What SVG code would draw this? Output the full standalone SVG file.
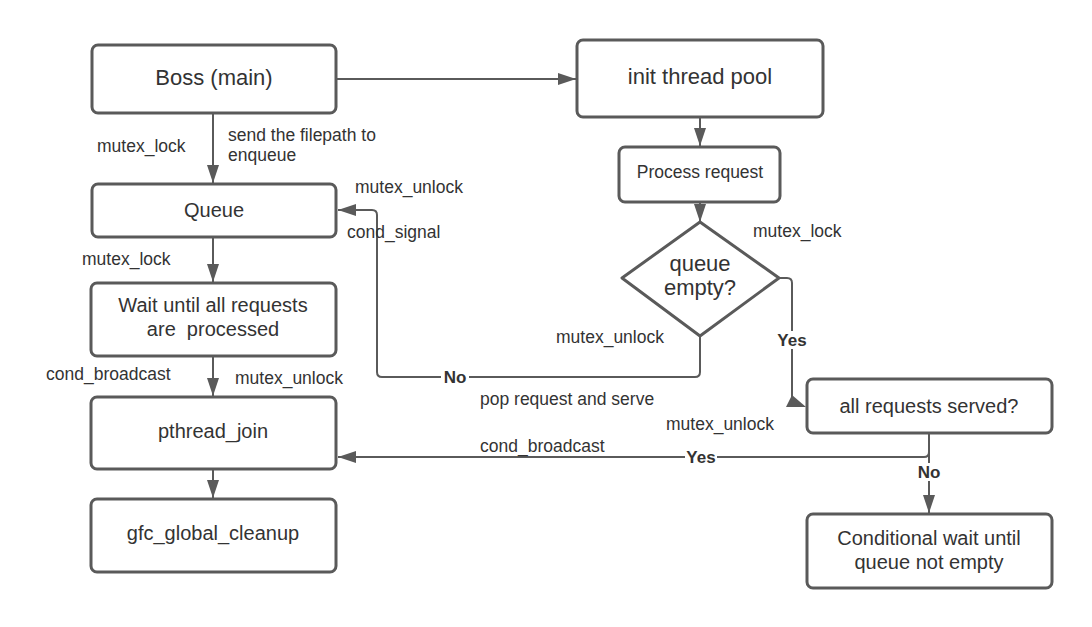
<svg xmlns="http://www.w3.org/2000/svg" width="1092" height="627" viewBox="0 0 1092 627">
<style>
.box{fill:#fff;stroke:#5a5a5a;stroke-width:3;}
.c{fill:none;stroke:#5a5a5a;stroke-width:2;}
.t{font-family:"Liberation Sans",Arial,sans-serif;fill:#333;text-anchor:middle;}
.l{font-family:"Liberation Sans",Arial,sans-serif;fill:#333;font-size:17.5px;}
.b{font-family:"Liberation Sans",Arial,sans-serif;fill:#333;font-size:17px;font-weight:bold;text-anchor:middle;}
.bg{fill:#fff;}
</style>
<defs>
<marker id="ah" viewBox="0 0 18 12" refX="18" refY="6" markerWidth="18" markerHeight="12" markerUnits="userSpaceOnUse" orient="auto">
<path d="M0,0 L18,6 L0,12 z" fill="#5a5a5a"/>
</marker>
</defs>
<rect width="1092" height="627" fill="#fff"/>
<g id="connectors">
<line class="c" x1="336" y1="79" x2="576" y2="79" marker-end="url(#ah)"/>
<line class="c" x1="213" y1="113" x2="213" y2="183" marker-end="url(#ah)"/>
<line class="c" x1="700" y1="117" x2="700" y2="146" marker-end="url(#ah)"/>
<line class="c" x1="700" y1="202" x2="700" y2="222" marker-end="url(#ah)"/>
<path class="c" d="M700,336 V372 Q700,377 695,377 H382 Q377,377 377,372 V215 Q377,210 372,210 H338" marker-end="url(#ah)"/>
<path class="c" d="M779,278 H787 Q792,278 792,283 V398"/>
<polygon points="786,407 792,395 806,407" fill="#5a5a5a"/>
<path class="c" d="M929,433 V452 Q929,457 924,457 H338" marker-end="url(#ah)"/>
<line class="c" x1="929" y1="452" x2="929" y2="513" marker-end="url(#ah)"/>
<line class="c" x1="213" y1="237" x2="213" y2="282" marker-end="url(#ah)"/>
<line class="c" x1="213" y1="356" x2="213" y2="396" marker-end="url(#ah)"/>
<line class="c" x1="213" y1="469" x2="213" y2="498" marker-end="url(#ah)"/>
<rect class="bg" x="441" y="368" width="28" height="18"/>
<text class="b" x="455" y="383">No</text>
<rect class="bg" x="776" y="331" width="32" height="18"/>
<text class="b" x="792" y="346">Yes</text>
<rect class="bg" x="685" y="448" width="32" height="18"/>
<text class="b" x="701" y="463">Yes</text>
<rect class="bg" x="915" y="463" width="28" height="18"/>
<text class="b" x="929" y="478">No</text>
</g>
<g id="labels">
<text class="l" x="97" y="152">mutex_lock</text>
<text class="l" x="228" y="141">send the filepath to</text>
<text class="l" x="228" y="161">enqueue</text>
<text class="l" x="355" y="193">mutex_unlock</text>
<text class="l" x="347" y="238">cond_signal</text>
<text class="l" x="82" y="265">mutex_lock</text>
<text class="l" x="753" y="237">mutex_lock</text>
<text class="l" x="556" y="343">mutex_unlock</text>
<text class="l" x="480" y="405">pop request and serve</text>
<text class="l" x="480" y="452">cond_broadcast</text>
<text class="l" x="666" y="430">mutex_unlock</text>
<text class="l" x="46" y="380">cond_broadcast</text>
<text class="l" x="235" y="384">mutex_unlock</text>
</g>
<g id="boss">
<rect class="box" x="92" y="45" width="244" height="68" rx="6"/>
<text class="t" x="214" y="85" font-size="22">Boss (main)</text>
</g>
<g id="init">
<rect class="box" x="577" y="40" width="246" height="77" rx="6"/>
<text class="t" x="700" y="84" font-size="22">init thread pool</text>
</g>
<g id="queue">
<rect class="box" x="92" y="184" width="244" height="53" rx="6"/>
<text class="t" x="214" y="217" font-size="20">Queue</text>
</g>
<g id="process">
<rect class="box" x="619" y="147" width="161" height="55" rx="6"/>
<text class="t" x="700" y="178" font-size="17.5">Process request</text>
</g>
<g id="decision">
<polygon class="box" points="700,222 779,278 700,336 622,278" stroke-linejoin="round"/>
<text class="t" x="700" y="271" font-size="22">queue</text>
<text class="t" x="700" y="295" font-size="22">empty?</text>
</g>
<g id="wait">
<rect class="box" x="91" y="283" width="245" height="73" rx="6"/>
<text class="t" x="213" y="312" font-size="20">Wait until all requests</text>
<text class="t" x="213" y="336" font-size="20" xml:space="preserve">are  processed</text>
</g>
<g id="served">
<rect class="box" x="807" y="379" width="245" height="54" rx="6"/>
<text class="t" x="929" y="413" font-size="20">all requests served?</text>
</g>
<g id="join">
<rect class="box" x="91" y="397" width="245" height="72" rx="6"/>
<text class="t" x="213" y="438" font-size="20">pthread_join</text>
</g>
<g id="cleanup">
<rect class="box" x="91" y="499" width="245" height="73" rx="6"/>
<text class="t" x="213" y="540" font-size="20">gfc_global_cleanup</text>
</g>
<g id="condwait">
<rect class="box" x="807" y="514" width="245" height="74" rx="6"/>
<text class="t" x="929" y="545" font-size="20">Conditional wait until</text>
<text class="t" x="929" y="569" font-size="20">queue not empty</text>
</g>
</svg>
